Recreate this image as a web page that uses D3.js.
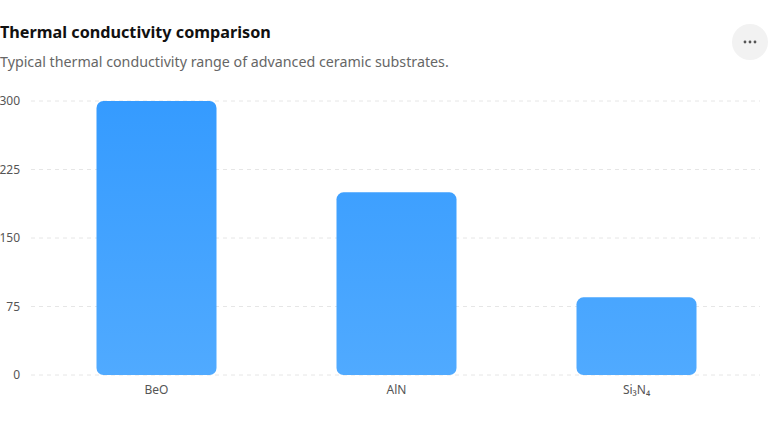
<!DOCTYPE html>
<html>
<head>
<meta charset="utf-8">
<script src="https://cdn.jsdelivr.net/npm/d3@7"></script>
<style>
  body { margin: 0; background: #fff; font-family: "Noto Sans", "Open Sans", sans-serif; }
  #chart { width: 768px; height: 432px; }
</style>
</head>
<body>
<div id="chart"></div>
<script>
// Chart data
const materials = ['BeO', 'AlN', 'Si₃N₄'];
const conductivity = [300, 200, 85];
const yTicks = [0, 75, 150, 225, 300];

const title = 'Thermal conductivity comparison';
const subtitle = 'Typical thermal conductivity range of advanced ceramic substrates.';

const width = 768;
const height = 432;
const plot = { left: 31, right: 760, top: 101, bottom: 375 };

const svg = d3.select('#chart')
  .append('svg')
  .attr('width', width)
  .attr('height', height);

// Bar gradient: deeper blue at top, lighter toward base
const defs = svg.append('defs');
const grad = defs.append('linearGradient')
  .attr('id', 'barGrad')
  .attr('gradientUnits', 'userSpaceOnUse')
  .attr('x1', 0).attr('x2', 0)
  .attr('y1', plot.top).attr('y2', plot.bottom);
grad.append('stop').attr('offset', '0%').attr('stop-color', '#359bff');
grad.append('stop').attr('offset', '100%').attr('stop-color', '#50aaff');

// Header
svg.append('text')
  .attr('x', 0)
  .attr('y', 38)
  .style('font-size', '16.2px')
  .style('font-weight', '700')
  .style('fill', '#111')
  .text(title);

svg.append('text')
  .attr('x', 0)
  .attr('y', 67)
  .style('font-size', '14.25px')
  .style('fill', '#666')
  .text(subtitle);

// Menu button
const menu = svg.append('g').attr('transform', 'translate(750,42)');
menu.append('circle').attr('r', 18).attr('fill', '#f2f2f2');
menu.selectAll('circle.dot')
  .data([-5, 0, 5])
  .join('circle')
  .attr('class', 'dot')
  .attr('cx', d => d)
  .attr('r', 1.4)
  .attr('fill', '#555');

// Scales
const x = d3.scaleBand()
  .domain(materials)
  .range([36.5, 756.5])
  .paddingInner(0.5)
  .paddingOuter(0.25);

const y = d3.scaleLinear()
  .domain([0, 300])
  .range([plot.bottom, plot.top]);

// Grid lines
svg.append('g')
  .selectAll('line')
  .data(yTicks)
  .join('line')
  .attr('x1', plot.left)
  .attr('x2', plot.right)
  .attr('y1', d => y(d))
  .attr('y2', d => y(d))
  .attr('stroke', '#e6e6e6')
  .attr('stroke-dasharray', '4,4');

// Y axis labels
svg.append('g')
  .selectAll('text')
  .data(yTicks)
  .join('text')
  .attr('x', 20)
  .attr('y', d => y(d))
  .attr('dy', '0.35em')
  .attr('text-anchor', 'end')
  .style('font-size', '12px')
  .style('fill', '#555')
  .text(d => d);

// Bars
svg.append('g')
  .selectAll('rect')
  .data(materials.map((m, i) => ({ m, v: conductivity[i] })))
  .join('rect')
  .attr('x', d => x(d.m))
  .attr('y', d => y(d.v))
  .attr('width', x.bandwidth())
  .attr('height', d => y(0) - y(d.v))
  .attr('rx', 7)
  .attr('fill', 'url(#barGrad)');

// X axis labels
svg.append('g')
  .selectAll('text')
  .data(materials)
  .join('text')
  .attr('x', d => x(d) + x.bandwidth() / 2)
  .attr('y', 394)
  .attr('text-anchor', 'middle')
  .style('font-size', '12px')
  .style('fill', '#555')
  .text(d => d);
</script>
</body>
</html>
